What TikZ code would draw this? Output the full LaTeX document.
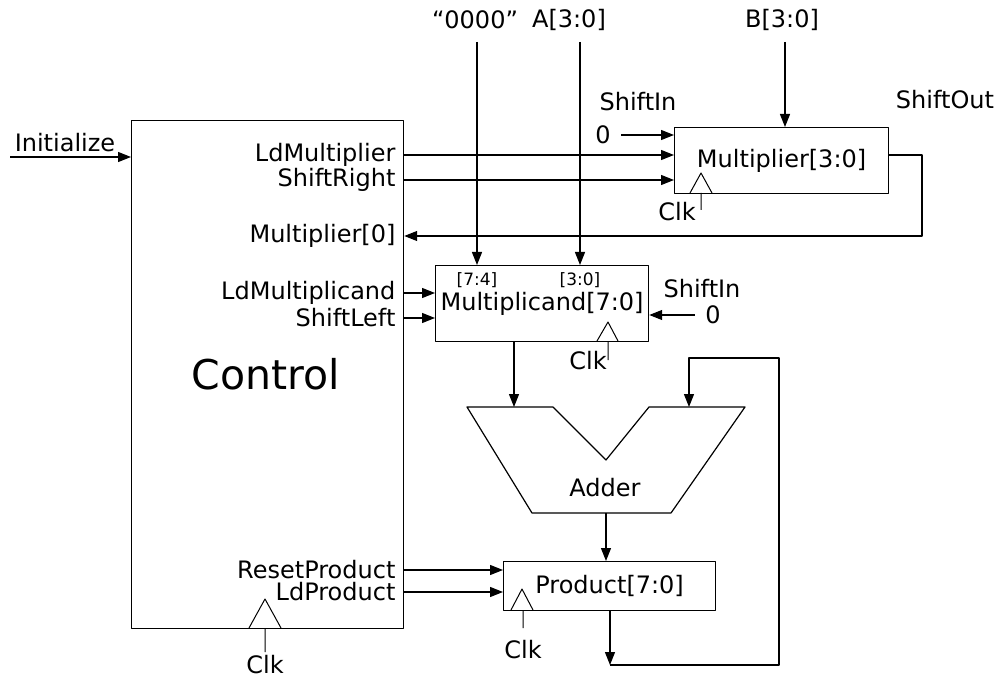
\documentclass[tikz,border=0pt]{standalone}
\usepackage{fontspec}
\setmainfont{DejaVu Sans}
\usetikzlibrary{arrows.meta}
\begin{document}
\begin{tikzpicture}[
	x=1pt,y=-1pt,line join=round,>={Triangle[length=13pt,width=10pt]},line width=1.2pt,
	font=\fontsize{24}{27}\selectfont,
	blok/.style={rectangle,draw,inner sep=0pt,anchor=north west},
	sig/.style={inner sep=1pt,anchor=east},
	lbl/.style={inner sep=0pt},
	bit/.style={inner sep=0pt,font=\fontsize{17}{19}\selectfont}]
	\useasboundingbox (0,0) rectangle (1002,679);
	\node at (131,120) (nodeCtrl) [blok,minimum width=272pt,minimum height=508pt] {};
	\node at (266,374) (nodeCtrlT) [lbl,font=\fontsize{41}{44}\selectfont] {Control};
	\node at (674,127) (nodeMr) [blok,minimum width=214pt,minimum height=66pt] {Multiplier[3:0]};
	\node at (435,265) (nodeMd) [blok,minimum width=213pt,minimum height=76pt] {Multiplicand[7:0]};
	\node at (503,561) (nodeP) [blok,minimum width=212pt,minimum height=49pt] {Product[7:0]};
	\draw (467,407) -- (553,407) -- (606,460) -- (649,407) -- (745,407) -- (671,513) -- (532,513) -- cycle;
	\node at (605,488) (nodeAdd) [lbl] {Adder};
	\coordinate (addL) at (514,407);
	\coordinate (addR) at (689,407);
	\coordinate (addO) at (606,513);
	\node at (65,143) (nodeInit) [lbl] {Initialize};
	\coordinate (initIn) at (10,157);
	\node at (397,155) (nodeLdMr) [sig] {LdMultiplier};
	\node at (397,180) (nodeShR) [sig] {ShiftRight};
	\node at (397,236) (nodeM0) [sig] {Multiplier[0]};
	\node at (397,293) (nodeLdMd) [sig] {LdMultiplicand};
	\node at (397,318) (nodeShL) [sig] {ShiftLeft};
	\node at (397,570) (nodeRst) [sig] {ResetProduct};
	\node at (397,592) (nodeLdP) [sig] {LdProduct};
	\node at (475,20) (nodeZero) [lbl] {“0000”};
	\node at (569,20) (nodeA) [lbl] {A[3:0]};
	\node at (782,20) (nodeB) [lbl] {B[3:0]};
	\node at (477,280) (nodeS74) [bit] {[7:4]};
	\node at (580,280) (nodeS30) [bit] {[3:0]};
	\node at (638,102) (nodeSI1) [lbl] {ShiftIn};
	\node at (603,135) (nodeZ1) [lbl,inner xsep=10pt] {0};
	\node at (945,100) (nodeSO) [lbl] {ShiftOut};
	\node at (702,289) (nodeSI2) [lbl] {ShiftIn};
	\node at (713,315) (nodeZ2) [lbl,inner xsep=10pt] {0};
	\coordinate (mrOut) at (922,155);
	\coordinate (bIn) at (785,42);
	\coordinate (loopB) at (610,665);
	\coordinate (loopR) at (779,358);
	\draw[->] (initIn) -- (nodeCtrl.west |- initIn);
	\draw[->] (nodeCtrl.east |- nodeLdMr) -- (nodeMr.west |- nodeLdMr);
	\draw[->] (nodeCtrl.east |- nodeShR) -- (nodeMr.west |- nodeShR);
	\draw[->] (nodeZ1.east) -- (nodeMr.west |- nodeZ1);
	\draw[->] (bIn) -- (bIn |- nodeMr.north);
	\draw[->] (nodeMr.east |- mrOut) -- (mrOut) |- (nodeCtrl.east |- nodeM0);
	\draw[->] (nodeS74 |- bIn) -- (nodeS74 |- nodeMd.north);
	\draw[->] (nodeS30 |- bIn) -- (nodeS30 |- nodeMd.north);
	\draw[->] (nodeCtrl.east |- nodeLdMd) -- (nodeMd.west |- nodeLdMd);
	\draw[->] (nodeCtrl.east |- nodeShL) -- (nodeMd.west |- nodeShL);
	\draw[->] (nodeZ2.west) -- (nodeMd.east |- nodeZ2);
	\draw[->] (addL |- nodeMd.south) -- (addL);
	\draw[->] (addO) -- (addO |- nodeP.north);
	\draw[->] (nodeCtrl.east |- nodeRst) -- (nodeP.west |- nodeRst);
	\draw[->] (nodeCtrl.east |- nodeLdP) -- (nodeP.west |- nodeLdP);
	\draw[->] (loopB |- nodeP.south) -- (loopB);
	\draw[->] (loopB) -| (loopR) -| (addR);
	\draw[line width=1pt] (690,193) -- (701,173) -- (712,193) (701,193) -- (701,210);
	\node at (677,212) (nodeClk1) [lbl] {Clk};
	\draw[line width=1pt] (597,341) -- (608,322) -- (618,341) (608,341) -- (608,360);
	\node at (588,361) (nodeClk2) [lbl] {Clk};
	\draw[line width=1pt] (511,610) -- (522,589) -- (533,610) (523,610) -- (523,628);
	\node at (523,650) (nodeClk3) [lbl] {Clk};
	\draw[line width=1pt] (249,628) -- (265,599) -- (281,628) (265,628) -- (265,652);
	\node at (265,665) (nodeClk4) [lbl] {Clk};
\end{tikzpicture}
\end{document}
